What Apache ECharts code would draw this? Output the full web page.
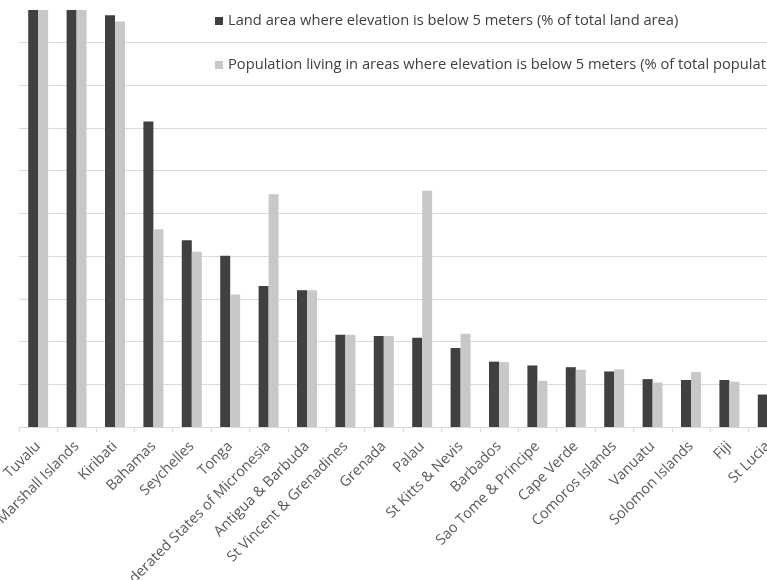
<!DOCTYPE html>
<html>
<head>
<meta charset="utf-8">
<script src="https://cdn.jsdelivr.net/npm/echarts@6/dist/echarts.min.js"></script>
<style>
  html, body { margin: 0; padding: 0; background: #ffffff; }
  #chart { width: 767px; height: 580px; }
</style>
</head>
<body>
<div id="chart"></div>
<script>
const categories = [
  'Tuvalu', 'Marshall Islands', 'Kiribati', 'Bahamas', 'Seychelles', 'Tonga',
  'Federated States of Micronesia', 'Antigua & Barbuda', 'St Vincent & Grenadines',
  'Grenada', 'Palau', 'St Kitts & Nevis', 'Barbados', 'Sao Tome & Principe',
  'Cape Verde', 'Comoros Islands', 'Vanuatu', 'Solomon Islands', 'Fiji', 'St Lucia'
];
const landArea = [100, 100, 96.4, 71.5, 43.7, 40.1, 33.0, 32.0, 21.6, 21.3, 20.9, 18.5, 15.3, 14.4, 14.0, 13.0, 11.2, 11.0, 11.0, 7.6];
const population = [100, 100, 94.9, 46.3, 41.0, 31.0, 54.5, 32.0, 21.6, 21.3, 55.3, 21.8, 15.2, 10.8, 13.4, 13.5, 10.4, 12.9, 10.6, 7.0];
const seriesNames = [
  'Land area where elevation is below 5 meters (% of total land area)',
  'Population living in areas where elevation is below 5 meters (% of total population)'
];

const chart = echarts.init(document.getElementById('chart'), null, { renderer: 'canvas' });
chart.setOption({
  animation: false,
  backgroundColor: '#ffffff',
  textStyle: { fontFamily: 'Open Sans' },
  legend: {
    orient: 'vertical',
    left: 215,
    top: 12,
    padding: 0,
    itemWidth: 8,
    itemHeight: 8,
    itemGap: 26,
    icon: 'rect',
    textStyle: { fontSize: 14.7, color: '#404040', lineHeight: 18, fontFamily: 'Open Sans' },
    data: seriesNames
  },
  grid: { left: 19, width: 768, top: 10, height: 417, containLabel: false, outerBoundsMode: 'none' },
  xAxis: {
    type: 'category',
    data: categories,
    axisLine: { lineStyle: { color: '#d9d9d9', width: 1 } },
    axisTick: { show: true, length: 5, lineStyle: { color: '#d9d9d9' } },
    axisLabel: { rotate: 45, margin: 17, fontSize: 14.5, color: '#595959', interval: 0, hideOverlap: false, fontFamily: 'Open Sans' },
    splitLine: { show: false }
  },
  yAxis: {
    type: 'value',
    min: 0,
    max: 97.6,
    interval: 10,
    axisLabel: { show: false },
    axisLine: { show: false },
    axisTick: { show: false },
    splitLine: { show: true, showMaxLine: false, lineStyle: { color: '#dadada', width: 1 } }
  },
  series: [
    {
      name: seriesNames[0],
      type: 'bar',
      data: landArea,
      barWidth: 10,
      barGap: '0%',
      clip: true,
      itemStyle: { color: '#404040' }
    },
    {
      name: seriesNames[1],
      type: 'bar',
      data: population,
      barWidth: 10,
      clip: true,
      itemStyle: { color: '#c8c8c8' }
    }
  ]
});
</script>
</body>
</html>
